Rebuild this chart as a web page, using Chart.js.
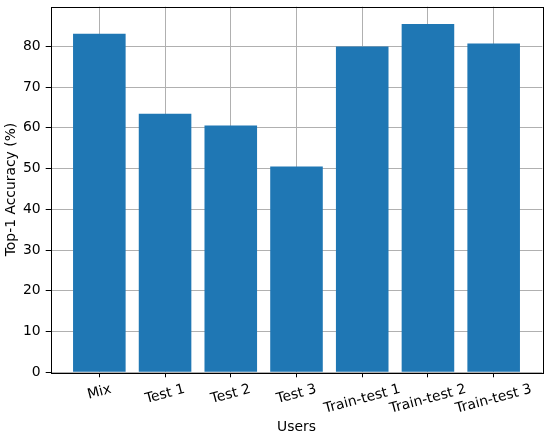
<!DOCTYPE html>
<html lang="en">
<head>
  <meta charset="UTF-8">
  <title>Top-1 Accuracy by User</title>
  <script src="https://cdn.jsdelivr.net/npm/chart.js"></script>
  <style>
    body { margin: 0; background: #fff; }
  </style>
</head>
<body>
  <canvas id="accChart" width="550" height="438"></canvas>

  <script>
    // data
    const users = ['Mix', 'Test 1', 'Test 2', 'Test 3', 'Train-test 1', 'Train-test 2', 'Train-test 3'];
    const accuracy = [83.1, 63.5, 60.6, 50.5, 80.0, 85.5, 80.7];
    const yTicks = [0, 10, 20, 30, 40, 50, 60, 70, 80];

    const FONT = '"DejaVu Sans", sans-serif';
    const FS = 13.9;

    // rotated, centred x labels (matplotlib style) + black frame on top of bars
    const axesPlugin = {
      id: 'axesPlugin',
      afterDatasetsDraw(chart) {
        const ctx = chart.ctx;
        const a = chart.chartArea;
        ctx.save();
        ctx.strokeStyle = '#000';
        ctx.lineWidth = 1;
        ctx.strokeRect(Math.round(a.left) + 0.5, Math.round(a.top) + 0.5,
                       Math.round(a.right - a.left), Math.round(a.bottom - a.top));
        ctx.restore();
      },
      afterDraw(chart) {
        const ctx = chart.ctx;
        const xs = chart.scales.x;
        const ang = 15 * Math.PI / 180;
        ctx.save();
        ctx.font = FS + 'px ' + FONT;
        ctx.fillStyle = '#000';
        ctx.textAlign = 'center';
        ctx.textBaseline = 'middle';
        users.forEach((lab, i) => {
          const w = ctx.measureText(lab).width;
          const h = 14;
          const bh = w * Math.sin(ang) + h * Math.cos(ang);
          const x = xs.getPixelForValue(i);
          const y = xs.top + 10 + bh / 2;
          ctx.save();
          ctx.translate(x, y);
          ctx.rotate(-ang);
          ctx.fillText(lab, 0, 0);
          ctx.restore();
        });
        ctx.restore();
      }
    };

    const ctx = document.getElementById('accChart').getContext('2d');
    new Chart(ctx, {
      type: 'bar',
      data: {
        datasets: [{
          data: accuracy.map((v, i) => ({ x: i, y: v })),
          backgroundColor: '#1f77b4',
          borderWidth: 0,
          barPercentage: 1.0,
          categoryPercentage: 0.8
        }]
      },
      options: {
        responsive: false,
        animation: false,
        layout: { padding: { left: 0, right: 7.7, top: 6.7, bottom: 0 } },
        plugins: {
          legend: { display: false },
          tooltip: { enabled: false }
        },
        scales: {
          x: {
            type: 'linear',
            min: -0.74,
            max: 6.74,
            offset: false,
            border: { display: false },
            grid: {
              offset: false,
              color: '#b0b0b0',
              lineWidth: 1,
              drawTicks: true,
              tickLength: 5,
              tickColor: '#000'
            },
            ticks: { display: false },
            afterBuildTicks: (s) => { s.ticks = users.map((_, i) => ({ value: i })); },
            afterFit: (s) => {
              s.height = 65.7;
              s.paddingLeft = 0; s.paddingRight = 0;
            },
            title: {
              display: true,
              text: 'Users',
              color: '#000',
              font: { family: FONT, size: FS },
              padding: { top: 0, bottom: 2.6 }
            }
          },
          y: {
            min: 0,
            max: 89.75,
            border: { display: false },
            grid: {
              color: '#b0b0b0',
              lineWidth: 1,
              drawTicks: true,
              tickLength: 5,
              tickColor: '#000'
            },
            ticks: {
              stepSize: 10,
              padding: 5,
              color: '#000',
              font: { family: FONT, size: FS }
            },
            afterBuildTicks: (s) => { s.ticks = yTicks.map(v => ({ value: v })); },
            afterFit: (s) => {
              s.width = 50.7;
              s.paddingTop = 0; s.paddingBottom = 0;
            },
            title: {
              display: true,
              text: 'Top-1 Accuracy (%)',
              color: '#000',
              font: { family: FONT, size: FS },
              padding: { top: 2.7, bottom: 0 }
            }
          }
        }
      },
      plugins: [axesPlugin]
    });
  </script>
</body>
</html>
